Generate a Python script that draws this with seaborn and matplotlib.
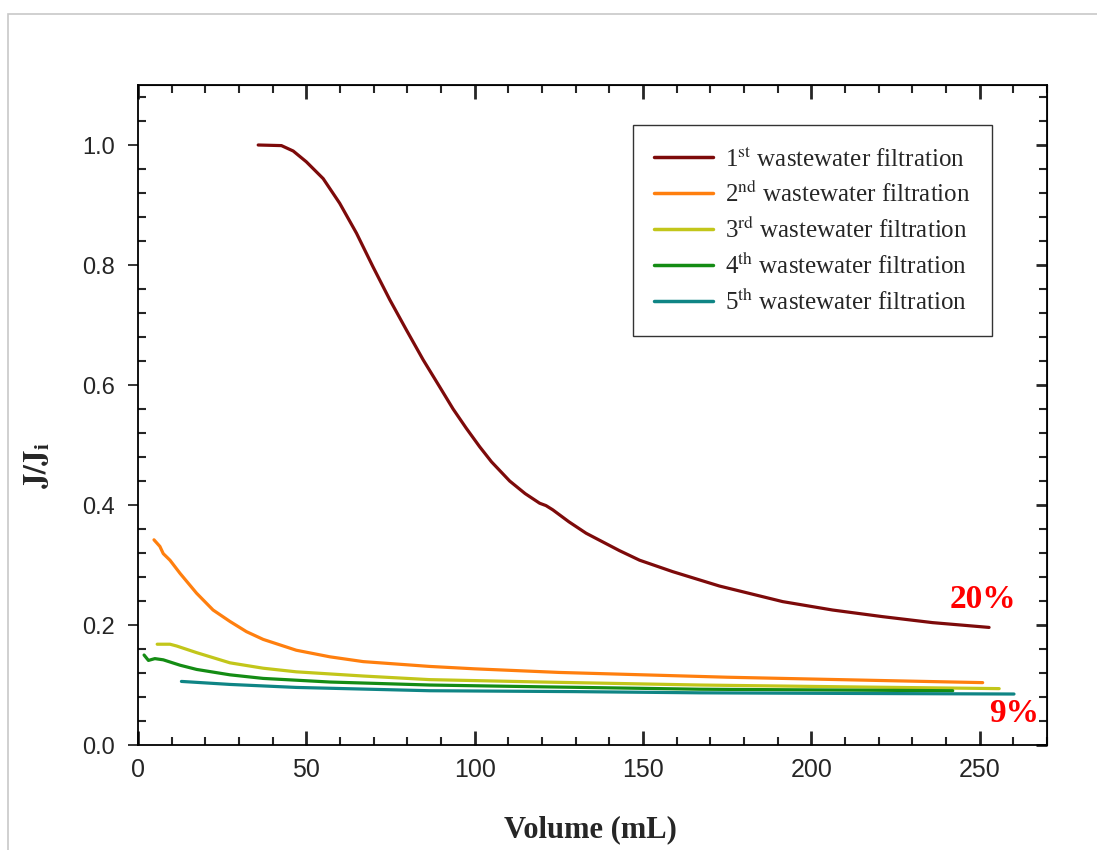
import numpy as np
import pandas as pd
import seaborn as sns
import matplotlib.pyplot as plt
from matplotlib.patches import Rectangle
from matplotlib.ticker import MultipleLocator

vol_1 = [35.7, 42.6, 46.1, 50.0, 55.0, 59.9, 64.9, 69.8, 74.8, 79.7, 84.7, 89.6, 93.6,
         97.5, 101.5, 105.0, 110.4, 115.0, 119.3, 121.2, 123.2, 128.0, 133.1, 143.0, 149.0,
         158.8, 172.7, 191.5, 206.3, 221.1, 236.0, 252.8]
flux_1 = [1.0, 0.999, 0.990, 0.972, 0.944, 0.903, 0.853, 0.797, 0.742, 0.692, 0.642, 0.597, 0.560,
          0.528, 0.497, 0.472, 0.440, 0.419, 0.403, 0.399, 0.392, 0.372, 0.353, 0.324, 0.308,
          0.289, 0.265, 0.239, 0.225, 0.214, 0.204, 0.196]

vol_2 = [4.75, 6.5, 7.5, 9.5, 12.5, 17.4, 22.3, 27.3, 32.2, 37.2, 47.0, 57.0, 66.9, 86.6,
         100, 125, 150, 175, 200, 225, 250.9]
flux_2 = [0.342, 0.331, 0.319, 0.308, 0.286, 0.253, 0.225, 0.206, 0.189, 0.176, 0.158, 0.147,
          0.139, 0.131, 0.127, 0.121, 0.117, 0.113, 0.110, 0.107, 0.104]

vol_3 = [5.7, 9.5, 11.5, 17.4, 27.3, 37.2, 47.0, 66.9, 86.6, 120, 166.8, 210, 255.8]
flux_3 = [0.168, 0.168, 0.165, 0.154, 0.137, 0.128, 0.122, 0.115, 0.109, 0.105, 0.100, 0.097, 0.094]

vol_4 = [1.8, 3.1, 5.0, 7.5, 12.5, 17.4, 27.3, 37.2, 57.0, 86.6, 120, 166.8, 242.0]
flux_4 = [0.150, 0.141, 0.144, 0.142, 0.133, 0.126, 0.117, 0.111, 0.105, 0.100, 0.097, 0.093, 0.0905]

vol_5 = [12.9, 27.3, 47.0, 86.6, 130, 166.8, 210, 260.2]
flux_5 = [0.106, 0.101, 0.096, 0.0905, 0.089, 0.087, 0.086, 0.085]

labels = ["1$^{\\rm st}$ wastewater filtration", "2$^{\\rm nd}$ wastewater filtration",
          "3$^{\\rm rd}$ wastewater filtration", "4$^{\\rm th}$ wastewater filtration",
          "5$^{\\rm th}$ wastewater filtration"]
colors = ["#7d0a0a", "#ff7f0e", "#c2c61a", "#148c14", "#0f8585"]

frames = []
for lab, v, f in zip(labels, [vol_1, vol_2, vol_3, vol_4, vol_5],
                     [flux_1, flux_2, flux_3, flux_4, flux_5]):
    frames.append(pd.DataFrame({"Volume": v, "Flux": f, "Run": lab}))
df = pd.concat(frames, ignore_index=True)

sns.set_style("ticks")
plt.rcParams["font.family"] = ["Liberation Sans", "DejaVu Sans"]
plt.rcParams["mathtext.fontset"] = "stix"

fig = plt.figure(figsize=(10.97, 8.5), dpi=100)
ax = fig.add_axes([0.1258, 0.1235, 0.8286, 0.7765])
fig.patches.append(Rectangle((0.007, -0.05), 1.2, 1.034, transform=fig.transFigure,
                             fill=False, edgecolor="#c8c8c8", linewidth=1.2))

sns.lineplot(data=df, x="Volume", y="Flux", hue="Run", palette=colors,
             linewidth=2.3, sort=False, estimator=None, ax=ax)

ax.set_xlim(0, 270)
ax.set_ylim(0, 1.1)
ax.xaxis.set_major_locator(MultipleLocator(50))
ax.xaxis.set_minor_locator(MultipleLocator(10))
ax.yaxis.set_major_locator(MultipleLocator(0.2))
ax.yaxis.set_minor_locator(MultipleLocator(0.04))
ax.yaxis.set_major_formatter(plt.FormatStrFormatter("%.1f"))
for s in ax.spines.values():
    s.set_linewidth(1.3)
    s.set_color("black")
ax.tick_params(axis="x", which="major", direction="in", length=10, width=2, labelsize=18, pad=9)
ax.tick_params(axis="x", which="minor", direction="in", length=6, width=1.5)
ax.tick_params(axis="y", which="major", direction="out", length=7.5, width=1.3, labelsize=17, pad=9)
ax.tick_params(axis="y", which="minor", direction="in", length=6, width=1.5)

top = ax.secondary_xaxis("top")
top.xaxis.set_major_locator(MultipleLocator(50))
top.xaxis.set_minor_locator(MultipleLocator(10))
top.tick_params(which="major", direction="in", length=10, width=2, labeltop=False)
top.tick_params(which="minor", direction="in", length=6, width=1.5)
right = ax.secondary_yaxis("right")
right.yaxis.set_major_locator(MultipleLocator(0.2))
right.yaxis.set_minor_locator(MultipleLocator(0.04))
right.tick_params(which="major", direction="in", length=8, width=2, labelright=False)
right.tick_params(which="minor", direction="in", length=6, width=1.5)

ax.set_xlabel("Volume (mL)", fontsize=22, fontweight="bold", family="Liberation Serif")
ax.xaxis.set_label_coords(0.498, -0.129)
ax.xaxis.label.set_va("center")
ax.set_ylabel("$\\mathbf{J/J_i}$", fontsize=22)
ax.yaxis.set_label_coords(-0.111, 0.424)
ax.yaxis.label.set_va("center")

ax.text(251, 0.243, "20%", color="#ff0000", fontsize=24, fontweight="bold",
        family="Liberation Serif", ha="center", va="center")
ax.text(260.2, 0.052, "9%", color="#ff0000", fontsize=24, fontweight="bold",
        family="Liberation Serif", ha="center", va="center")

leg = ax.legend(loc="upper right", bbox_to_anchor=(0.9395, 0.939), frameon=True, fancybox=False,
                edgecolor="black", handlelength=2.35, handletextpad=0.5, borderpad=0.85,
                borderaxespad=0, labelspacing=0.4,
                prop={"family": "Liberation Serif", "size": 18})
leg.get_frame().set_linewidth(1.0)
for line in leg.get_lines():
    line.set_linewidth(2.5)

fig.savefig("out.png", dpi=100)
